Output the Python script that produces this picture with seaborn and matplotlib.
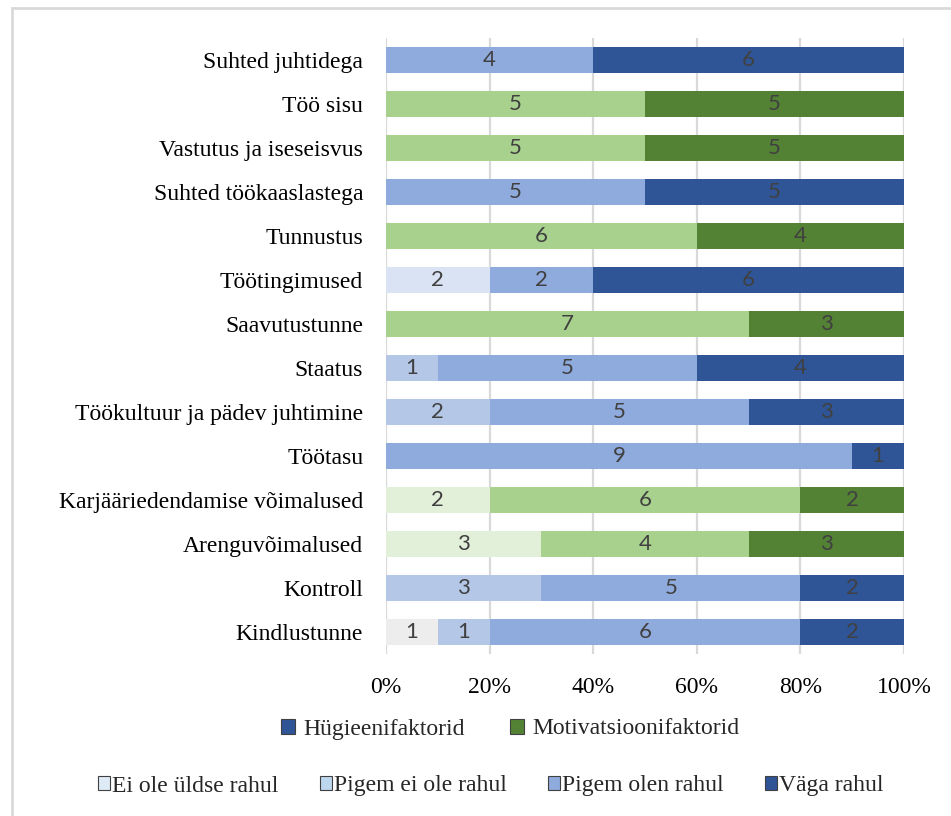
import matplotlib.pyplot as plt
import matplotlib.patches as mpatches
import numpy as np
import pandas as pd
import seaborn as sns

factors = [
    "Suhted juhtidega", "Töö sisu", "Vastutus ja iseseisvus", "Suhted töökaaslastega",
    "Tunnustus", "Töötingimused", "Saavutustunne", "Staatus",
    "Töökultuur ja pädev juhtimine", "Töötasu", "Karjääriedendamise võimalused",
    "Arenguvõimalused", "Kontroll", "Kindlustunne",
]
# H = hügieenifaktor, M = motivatsioonifaktor
factor_type = ["H", "M", "M", "H", "M", "H", "M", "H", "H", "H", "M", "M", "H", "H"]

ei_ole_rahul = [0, 0, 0, 0, 0, 2, 0, 0, 0, 0, 0, 0, 0, 1]
pigem_ei_ole = [0, 0, 0, 0, 0, 0, 0, 1, 2, 0, 2, 3, 3, 1]
pigem_olen = [4, 5, 5, 5, 6, 2, 7, 5, 5, 9, 6, 4, 5, 6]
vaga_rahul = [6, 5, 5, 5, 4, 6, 3, 4, 3, 1, 2, 3, 2, 2]

answers = ["Ei ole üldse rahul", "Pigem ei ole rahul", "Pigem olen rahul", "Väga rahul"]

palette = {
    "H": ["#EDEDED", "#B4C7E7", "#8FAADC", "#2F5597"],
    "M": ["#E2F0D9", "#E2F0D9", "#A9D18E", "#548235"],
}
# the one light cell that was coloured differently in the original
overrides = {("Töötingimused", 0): "#DAE3F3"}

counts = pd.DataFrame(
    {a: v for a, v in zip(answers, [ei_ole_rahul, pigem_ei_ole, pigem_olen, vaga_rahul])},
    index=factors,
)
pct = counts.div(counts.sum(axis=1), axis=0) * 100
cum = pct.cumsum(axis=1)

sns.set_style("white")
plt.rcParams["font.family"] = ["Liberation Serif", "DejaVu Serif"]

fig = plt.figure(figsize=(9.51, 8.16), dpi=100)
ax = fig.add_axes([386 / 951, 1 - 654 / 816, (904 - 386) / 951, (654 - 38) / 816])

# stacked bars: draw the running totals from the widest down
for j in reversed(range(len(answers))):
    df = pd.DataFrame({"factor": factors, "value": cum.iloc[:, j].values})
    sns.barplot(data=df, x="value", y="factor", orient="h", width=0.59,
                errorbar=None, color="#888888", ax=ax, zorder=2)
    for i, patch in enumerate(ax.containers[-1]):
        c = overrides.get((factors[i], j), palette[factor_type[i]][j])
        patch.set_facecolor(c)
        patch.set_edgecolor("none")

# segment labels
for i, name in enumerate(factors):
    left = 0.0
    for j, a in enumerate(answers):
        v = counts.loc[name, a]
        w = pct.loc[name, a]
        if v > 0:
            ax.text(left + w / 2, i, str(v), ha="center", va="center",
                    fontsize=16, color="#404040", family=["Lato", "DejaVu Sans"], zorder=3)
        left += w

ax.set_xlim(0, 100)
ax.set_ylim(len(factors) - 0.5, -0.5)
ax.set_xticks(np.arange(0, 101, 20))
ax.set_xticklabels([f"{t}%" for t in range(0, 101, 20)])
ax.xaxis.grid(True, color="#D9D9D9", linewidth=1.6, zorder=0)
ax.set_axisbelow(True)
for s in ax.spines.values():
    s.set_visible(False)
ax.tick_params(axis="x", length=0, pad=16.5, labelsize=17, colors="#000000")
ax.tick_params(axis="y", length=0, pad=16.4, labelsize=17, colors="#000000")
ax.set_xlabel("")
ax.set_ylabel("")

# legends
h1 = [mpatches.Patch(facecolor="#2F5597", edgecolor="#404040", linewidth=0.8, label="Hügieenifaktorid"),
      mpatches.Patch(facecolor="#548235", edgecolor="#404040", linewidth=0.8, label="Motivatsioonifaktorid")]
fig.legend(handles=h1, loc="center", bbox_to_anchor=(510 / 951, 1 - 729 / 816), ncol=2,
           frameon=False, fontsize=17, handlelength=0.6, handleheight=0.6,
           handletextpad=0.35, columnspacing=1.9)
swatches = ["#DEEBF7", "#BDD7EE", "#8FAADC", "#2F5597"]
h2 = [mpatches.Patch(facecolor=c, edgecolor="#404040", linewidth=0.8, label=a)
      for c, a in zip(swatches, answers)]
fig.legend(handles=h2, loc="center", bbox_to_anchor=(491 / 951, 1 - 786 / 816), ncol=4,
           frameon=False, fontsize=17, handlelength=0.5, handleheight=0.5,
           handletextpad=0.1, columnspacing=1.75)

# chart area frame
fig.patches.append(mpatches.Rectangle((12 / 951, -0.1), 1.2, 0.1 + 1 - 8 / 816,
                                      transform=fig.transFigure, fill=False,
                                      edgecolor="#D9D9D9", linewidth=2))

fig.savefig("out.png", dpi=100)
